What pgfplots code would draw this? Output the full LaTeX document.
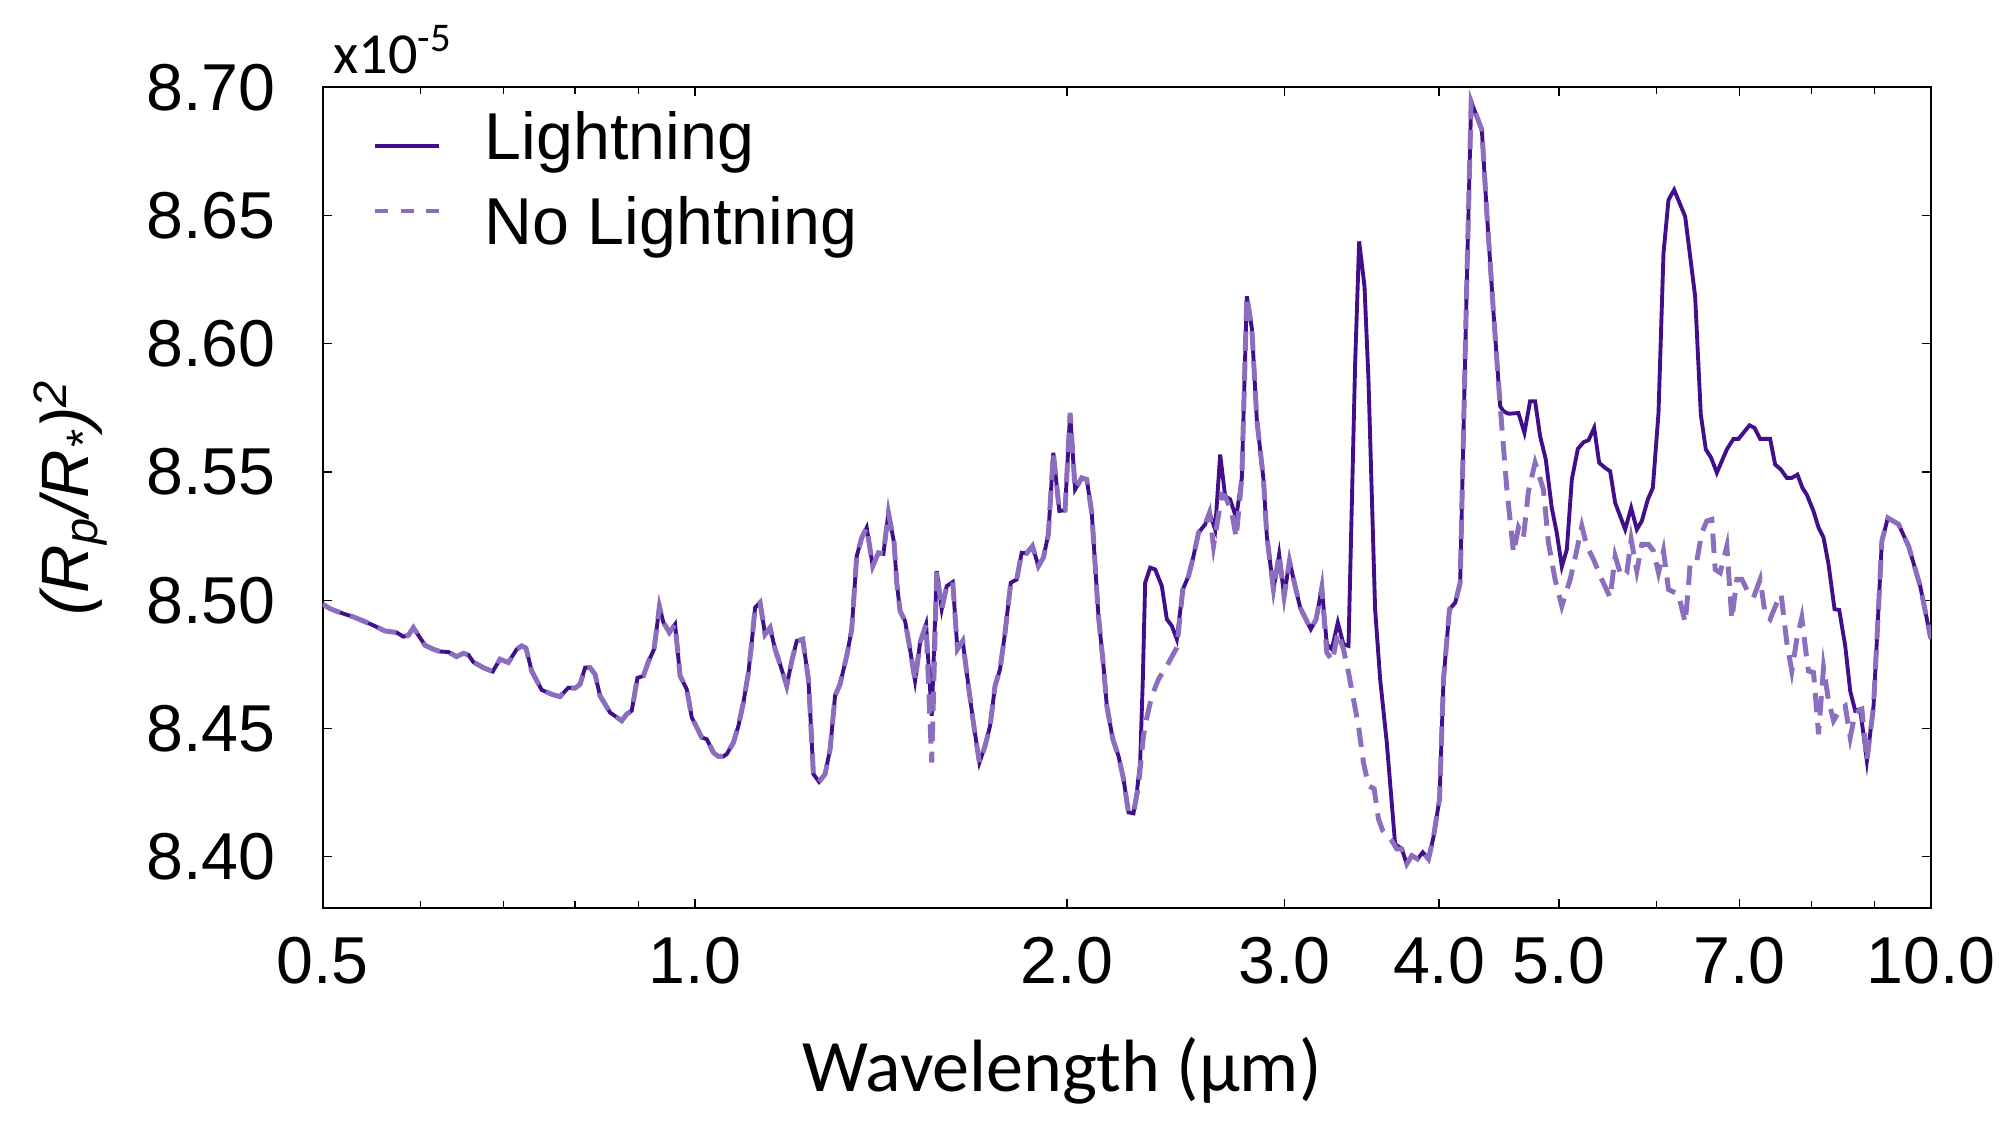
\documentclass[border=0pt]{standalone}
\usepackage{fontspec}
\setmainfont{Liberation Sans}
\newfontfamily\carlito{Carlito}
\usepackage{pgfplots}
\usepackage{pgfplotstable}
\pgfplotsset{compat=1.18}
\definecolor{litcol}{RGB}{65,15,140}
\definecolor{nolitcol}{RGB}{140,110,190}

\pgfplotstableread{
x y
0.5000 8.4985
0.5068 8.4967
0.5164 8.4952
0.5294 8.4935
0.5393 8.4919
0.5495 8.4902
0.5615 8.4880
0.5739 8.4874
0.5810 8.4858
0.5865 8.4863
0.5920 8.4893
0.5994 8.4854
0.6050 8.4824
0.6144 8.4809
0.6221 8.4800
0.6319 8.4798
0.6417 8.4780
0.6498 8.4793
0.6558 8.4787
0.6620 8.4759
0.6744 8.4737
0.6863 8.4722
0.6957 8.4770
0.7066 8.4757
0.7177 8.4809
0.7244 8.4822
0.7302 8.4813
0.7380 8.4724
0.7519 8.4650
0.7684 8.4631
0.7780 8.4624
0.7902 8.4659
0.8000 8.4657
0.8075 8.4672
0.8151 8.4737
0.8227 8.4737
0.8304 8.4711
0.8382 8.4627
0.8540 8.4562
0.8727 8.4530
0.8809 8.4556
0.8891 8.4569
0.8986 8.4697
0.9087 8.4705
0.9172 8.4761
0.9269 8.4809
0.9362 8.4975
0.9432 8.4913
0.9538 8.4874
0.9639 8.4906
0.9729 8.4705
0.9851 8.4653
0.9943 8.4543
1.0130 8.4465
1.0225 8.4458
1.0352 8.4406
1.0449 8.4391
1.0547 8.4391
1.0613 8.4400
1.0745 8.4445
1.0846 8.4510
1.0947 8.4601
1.1050 8.4718
1.1118 8.4835
1.1188 8.4971
1.1292 8.4991
1.1398 8.4867
1.1505 8.4893
1.1612 8.4809
1.1721 8.4750
1.1867 8.4666
1.1978 8.4763
1.2090 8.4841
1.2226 8.4848
1.2356 8.4692
1.2410 8.4523
1.2472 8.4322
1.2604 8.4292
1.2746 8.4322
1.2865 8.4419
1.2985 8.4627
1.3107 8.4673
1.3271 8.4783
1.3395 8.4887
1.3520 8.5172
1.3647 8.5244
1.3774 8.5283
1.3929 8.5133
1.4077 8.5185
1.4209 8.5181
1.4342 8.5341
1.4494 8.5224
1.4566 8.5068
1.4657 8.4958
1.4794 8.4919
1.4932 8.4809
1.5072 8.4686
1.5213 8.4835
1.5384 8.4906
1.5547 8.4549
1.5693 8.5114
1.5840 8.4965
1.5988 8.5055
1.6168 8.5071
1.6309 8.4809
1.6472 8.4841
1.6647 8.4666
1.6802 8.4523
1.6991 8.4367
1.7172 8.4432
1.7332 8.4510
1.7494 8.4666
1.7658 8.4731
1.7823 8.4874
1.8013 8.5068
1.8215 8.5081
1.8385 8.5185
1.8558 8.5183
1.8755 8.5211
1.8965 8.5133
1.9143 8.5166
1.9322 8.5257
1.9503 8.5575
1.9722 8.5348
1.9931 8.5351
2.0118 8.5730
2.0306 8.5432
2.0560 8.5477
2.0752 8.5471
2.0946 8.5341
2.1208 8.4939
2.1408 8.4744
2.1541 8.4588
2.1784 8.4458
2.2015 8.4393
2.2221 8.4303
2.2429 8.4173
2.2639 8.4169
2.2780 8.4251
2.2921 8.4367
2.3036 8.4692
2.3136 8.5068
2.3353 8.5127
2.3571 8.5120
2.3866 8.5055
2.4089 8.4926
2.4314 8.4900
2.4542 8.4848
2.4818 8.5042
2.5081 8.5094
2.5316 8.5172
2.5553 8.5263
2.5872 8.5296
2.6082 8.5341
2.6358 8.5276
2.6605 8.5568
2.6854 8.5406
2.7105 8.5393
2.7410 8.5321
2.7701 8.5477
2.7960 8.6185
2.8222 8.6061
2.8486 8.5704
2.8842 8.5471
2.9021 8.5250
2.9202 8.5146
2.9384 8.5042
2.9696 8.5179
2.9974 8.5016
3.0273 8.5153
3.0594 8.5055
3.0881 8.4971
3.1501 8.4887
3.1815 8.4926
3.2153 8.5049
3.2454 8.4828
3.2758 8.4809
3.3126 8.4913
3.3477 8.4828
3.3790 8.4822
3.4213 8.5925
3.4469 8.6399
3.4813 8.6224
3.5073 8.5860
3.5511 8.4965
3.5843 8.4692
3.6291 8.4445
3.6859 8.4049
3.7320 8.4030
3.7669 8.3972
3.8022 8.4004
3.8425 8.3991
3.8809 8.4017
3.9221 8.3991
3.9588 8.4075
4.0033 8.4225
4.0332 8.4692
4.0785 8.4965
4.1218 8.4990
4.1604 8.5068
4.2124 8.6250
4.2465 8.6944
4.3318 8.6834
4.3723 8.6509
4.4269 8.6120
4.4823 8.5756
4.5102 8.5737
4.5524 8.5727
4.6372 8.5730
4.6893 8.5653
4.7390 8.5776
4.7834 8.5776
4.8281 8.5640
4.8794 8.5549
4.9342 8.5360
4.9804 8.5263
5.0276 8.5131
5.0747 8.5198
5.1222 8.5471
5.1797 8.5590
5.2347 8.5616
5.2837 8.5624
5.3398 8.5672
5.3897 8.5536
5.4503 8.5516
5.5013 8.5503
5.5528 8.5380
5.6572 8.5276
5.7208 8.5360
5.7815 8.5276
5.8356 8.5309
5.9012 8.5393
5.9565 8.5438
6.0196 8.5730
6.0760 8.6353
6.1329 8.6561
6.1979 8.6600
6.3263 8.6496
6.4452 8.6185
6.5136 8.5724
6.5746 8.5588
6.6402 8.5555
6.7107 8.5497
6.8369 8.5588
6.9223 8.5629
6.9871 8.5629
7.1318 8.5682
7.1985 8.5672
7.2749 8.5629
7.4117 8.5629
7.4812 8.5529
7.5606 8.5510
7.6455 8.5477
7.7171 8.5477
7.7990 8.5490
7.8720 8.5438
7.9358 8.5412
8.0349 8.5347
8.1101 8.5283
8.1860 8.5244
8.2626 8.5140
8.3555 8.4965
8.4285 8.4962
8.5232 8.4822
8.6030 8.4646
8.6835 8.4569
8.7647 8.4575
8.8742 8.4374
8.9851 8.4588
9.1257 8.5231
9.2283 8.5321
9.4135 8.5296
9.5905 8.5211
9.8013 8.5055
9.9856 8.4861
10.000 8.4850
}\lightning

\pgfplotstableread{
x y
0.5000 8.4985
0.5068 8.4967
0.5164 8.4952
0.5294 8.4935
0.5393 8.4919
0.5495 8.4902
0.5615 8.4880
0.5739 8.4874
0.5810 8.4858
0.5865 8.4863
0.5920 8.4893
0.5994 8.4854
0.6050 8.4824
0.6144 8.4809
0.6221 8.4800
0.6319 8.4798
0.6417 8.4780
0.6498 8.4793
0.6558 8.4787
0.6620 8.4759
0.6744 8.4737
0.6863 8.4722
0.6957 8.4770
0.7066 8.4757
0.7177 8.4809
0.7244 8.4822
0.7302 8.4813
0.7380 8.4724
0.7519 8.4650
0.7684 8.4631
0.7780 8.4624
0.7902 8.4659
0.8000 8.4657
0.8075 8.4672
0.8151 8.4737
0.8227 8.4737
0.8304 8.4711
0.8382 8.4627
0.8540 8.4562
0.8727 8.4530
0.8809 8.4556
0.8891 8.4569
0.8986 8.4697
0.9087 8.4705
0.9172 8.4761
0.9269 8.4809
0.9362 8.4975
0.9432 8.4913
0.9538 8.4874
0.9639 8.4906
0.9729 8.4705
0.9851 8.4653
0.9943 8.4543
1.0130 8.4465
1.0225 8.4458
1.0352 8.4406
1.0449 8.4391
1.0547 8.4391
1.0613 8.4400
1.0745 8.4445
1.0846 8.4510
1.0947 8.4601
1.1050 8.4718
1.1118 8.4835
1.1188 8.4971
1.1292 8.4991
1.1398 8.4867
1.1505 8.4893
1.1612 8.4809
1.1721 8.4750
1.1867 8.4666
1.1978 8.4763
1.2090 8.4841
1.2226 8.4848
1.2356 8.4692
1.2410 8.4523
1.2472 8.4322
1.2604 8.4292
1.2746 8.4322
1.2865 8.4419
1.2985 8.4627
1.3107 8.4673
1.3271 8.4783
1.3395 8.4887
1.3520 8.5172
1.3647 8.5244
1.3774 8.5283
1.3929 8.5133
1.4077 8.5185
1.4209 8.5181
1.4342 8.5341
1.4494 8.5224
1.4566 8.5068
1.4657 8.4958
1.4794 8.4919
1.4932 8.4809
1.5072 8.4686
1.5213 8.4835
1.5384 8.4906
1.5547 8.4367
1.5693 8.5114
1.5840 8.4965
1.5988 8.5055
1.6168 8.5071
1.6309 8.4809
1.6472 8.4841
1.6647 8.4666
1.6802 8.4523
1.6991 8.4367
1.7172 8.4432
1.7332 8.4510
1.7494 8.4666
1.7658 8.4731
1.7823 8.4874
1.8013 8.5068
1.8215 8.5081
1.8385 8.5185
1.8558 8.5183
1.8755 8.5211
1.8965 8.5133
1.9143 8.5166
1.9322 8.5257
1.9503 8.5575
1.9722 8.5348
1.9931 8.5351
2.0118 8.5730
2.0306 8.5432
2.0560 8.5477
2.0752 8.5471
2.0946 8.5341
2.1208 8.4939
2.1408 8.4744
2.1541 8.4588
2.1784 8.4458
2.2015 8.4393
2.2221 8.4303
2.2429 8.4173
2.2639 8.4169
2.2850 8.4277
2.3064 8.4471
2.3208 8.4543
2.3425 8.4627
2.3718 8.4692
2.4089 8.4744
2.4542 8.4815
2.4818 8.5042
2.5081 8.5094
2.5316 8.5172
2.5553 8.5263
2.5872 8.5296
2.6082 8.5341
2.6277 8.5211
2.6688 8.5412
2.6854 8.5406
2.7190 8.5341
2.7410 8.5244
2.7701 8.5477
2.7960 8.6185
2.8222 8.6061
2.8486 8.5704
2.8842 8.5471
2.9021 8.5250
2.9202 8.5146
2.9384 8.5042
2.9696 8.5179
2.9974 8.5016
3.0273 8.5153
3.0594 8.5055
3.0881 8.4971
3.1501 8.4887
3.1815 8.4926
3.2153 8.5049
3.2454 8.4796
3.2798 8.4763
3.3126 8.4874
3.3477 8.4809
3.3790 8.4718
3.4107 8.4614
3.4426 8.4510
3.4748 8.4367
3.5073 8.4277
3.5445 8.4264
3.5732 8.4147
3.6022 8.4101
3.6631 8.4062
3.6974 8.4030
3.7320 8.4030
3.7669 8.3972
3.8022 8.4004
3.8425 8.3991
3.8809 8.4017
3.9221 8.3991
3.9588 8.4075
4.0033 8.4225
4.0332 8.4692
4.0785 8.4965
4.1218 8.4990
4.1604 8.5068
4.2124 8.6250
4.2465 8.6944
4.3318 8.6834
4.3723 8.6509
4.4269 8.6120
4.4823 8.5756
4.5383 8.5432
4.5950 8.5185
4.6372 8.5283
4.6806 8.5244
4.7243 8.5425
4.7834 8.5536
4.8582 8.5432
4.9037 8.5224
4.9649 8.5081
5.0276 8.4977
5.1063 8.5081
5.1541 8.5166
5.2185 8.5289
5.2673 8.5211
5.3331 8.5159
5.4166 8.5081
5.5013 8.5010
5.5528 8.5172
5.6152 8.5094
5.6748 8.5107
5.7208 8.5237
5.7815 8.5114
5.8356 8.5218
5.9086 8.5218
5.9639 8.5192
6.0196 8.5107
6.0760 8.5192
6.1329 8.5042
6.2482 8.5023
6.3263 8.4913
6.3657 8.5055
6.3855 8.5146
6.4653 8.5153
6.5258 8.5263
6.5868 8.5309
6.6485 8.5315
6.6899 8.5120
6.7525 8.5107
6.8369 8.5211
6.9009 8.4926
6.9655 8.5081
7.0307 8.5081
7.1185 8.5029
7.1851 8.5010
7.2749 8.5081
7.3430 8.4945
7.4117 8.4926
7.5044 8.4990
7.5653 8.5023
7.6455 8.4835
7.7171 8.4724
7.7893 8.4848
7.8622 8.4932
7.9210 8.4802
7.9605 8.4724
8.0349 8.4718
8.1101 8.4478
8.1860 8.4737
8.2626 8.4608
8.3400 8.4530
8.4442 8.4575
8.5232 8.4588
8.6030 8.4465
8.6835 8.4562
8.7920 8.4575
8.8742 8.4374
8.9851 8.4588
9.1257 8.5231
9.2283 8.5321
9.4135 8.5296
9.5905 8.5211
9.8013 8.5055
9.9856 8.4861
10.000 8.4850
}\nolightning

\begin{document}
\begin{tikzpicture}
\begin{axis}[
  name=main,
  scale only axis,
  width=455.95pt, height=232.67pt,
  xmode=log,
  xmin=0.5, xmax=10, ymin=8.38, ymax=8.70,
  xtick={0.5,1,2,3,4,5,7,10},
  xticklabels={0.5,1.0,2.0,3.0,4.0,5.0,7.0,10.0},
  minor xtick={0.6,0.7,0.8,0.9,6,8,9},
  ytick={8.40,8.45,8.50,8.55,8.60,8.65,8.70},
  yticklabels={8.40,8.45,8.50,8.55,8.60,8.65,8.70},
  tick align=inside,
  tick pos=both,
  major tick length=2.5pt, minor tick length=2pt,
  every tick/.style={black, line width=0.4pt},
  axis line style={line width=0.6pt},
  tick label style={font=\fontsize{18.8}{20}\selectfont},
  xticklabel style={anchor=center, inner sep=0pt, yshift=-15pt},
  yticklabel style={anchor=east, inner sep=0pt, xshift=-13.2pt},
  ylabel={\itshape (R\textsubscript{p}/R\textsubscript{*})\textsuperscript{2}},
  ylabel style={at={(rel axis cs:-0.157,0.5)}, anchor=center, font=\fontsize{19}{22}\selectfont},
  xlabel={Wavelength (μm)},
  xlabel style={at={(rel axis cs:0.4597,-0.2230)}, anchor=base, font=\carlito\fontsize{21}{24}\selectfont},
  legend style={at={(rel axis cs:0.0314,0.9703)}, anchor=north west, draw=none, fill=none,
    inner sep=0pt, outer sep=0pt, row sep=6.5pt, column sep=0pt,
    font=\fontsize{18.8}{20}\selectfont,
    nodes={inner sep=0pt, text height=13.7pt, text depth=3.9pt}},
  legend cell align=left,
]
\addplot[litcol, line width=1.1pt,
  legend image code/.code={\draw[litcol, line width=1.1pt] (0pt,-0.93pt) -- (18.2pt,-0.93pt); \path (30.4pt,0pt);}]
  table {\lightning};
\addplot[nolitcol, line width=1.4pt, dash pattern=on 5.5pt off 3pt,
  legend image code/.code={\draw[nolitcol, line width=1.1pt, dash pattern=on 3.7pt off 3.5pt] (0pt,4.7pt) -- (18.2pt,4.7pt); \path (30.4pt,0pt);}]
  table {\nolightning};
\legend{Lightning, No Lightning}
\end{axis}
\node[anchor=base west, inner sep=0pt, font=\carlito\fontsize{16.5}{18}\selectfont]
  at ([shift={(2.9pt,4pt)}]main.north west) {x10\textsuperscript{-5}};
\pgfresetboundingbox
\path ([shift={(-91.49pt,-61.52pt)}]main.south west) rectangle ([shift={(19.56pt,24.75pt)}]main.north east);
\end{tikzpicture}
\end{document}
